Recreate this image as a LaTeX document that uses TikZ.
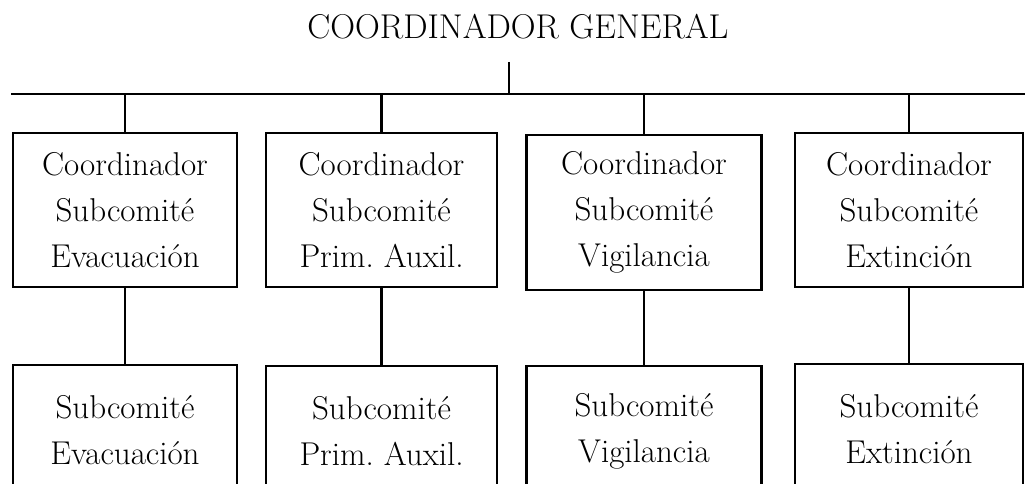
\documentclass[tikz,border=0pt]{standalone}
\begin{document}
\begin{tikzpicture}[x=0.5pt,y=-0.5pt,line width=1.35pt,
  box/.style={draw, align=center, inner sep=0pt, font=\fontsize{16.5}{23}\selectfont}]
\clip (0,0) rectangle (1025,483);
\node[anchor=base, inner ysep=11pt, font=\fontsize{17.2}{20}\selectfont] (gen) at (518,38) {COORDINADOR GENERAL};
\coordinate (bus) at (509,94);
\coordinate (barL) at (11,94);
\coordinate (barR) at (1025,94);
\node[box, minimum width=112pt, minimum height=77pt] (c1) at (125,210) {Coordinador\\Subcomité\\Evacuación};
\node[box, minimum width=115.5pt, minimum height=77pt] (c2) at (381.5,210) {Coordinador\\Subcomité\\Prim.\ Auxil.};
\node[box, minimum width=117.5pt, minimum height=77.5pt] (c3) at (644,212.5) {Coordinador\\Subcomité\\Vigilancia};
\node[box, minimum width=114pt, minimum height=77pt] (c4) at (909,210) {Coordinador\\Subcomité\\Extinción};
\node[box, minimum width=112pt, minimum height=65pt] (s1) at (125,430) {Subcomité\\Evacuación};
\node[box, minimum width=115.5pt, minimum height=65pt] (s2) at (381.5,431) {Subcomité\\Prim.\ Auxil.};
\node[box, minimum width=117.5pt, minimum height=65pt] (s3) at (644,431) {Subcomité\\Vigilancia};
\node[box, minimum width=114pt, minimum height=65pt] (s4) at (909,429) {Subcomité\\Extinción};
\draw (gen.south -| bus) -- (bus);
\draw (barL) -- (barR);
\draw (c1.north) -- (c1.north |- bus);
\draw (c2.north) -- (c2.north |- bus);
\draw (c3.north) -- (c3.north |- bus);
\draw (c4.north) -- (c4.north |- bus);
\draw (c1) -- (s1);
\draw (c2) -- (s2);
\draw (c3) -- (s3);
\draw (c4) -- (s4);
\end{tikzpicture}
\end{document}
